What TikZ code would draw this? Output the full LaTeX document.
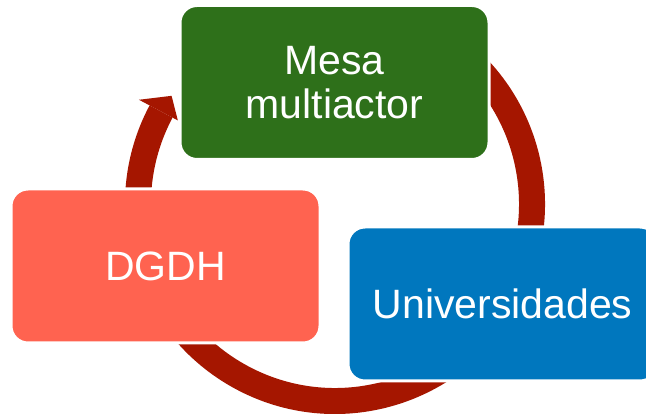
\documentclass[tikz,border=0pt]{standalone}
\usepackage{fontspec}
\setmainfont{Liberation Sans}
\definecolor{ringred}{HTML}{A51600}
\definecolor{mesagreen}{HTML}{2E701A}
\definecolor{dgdhred}{HTML}{FF6350}
\definecolor{univblue}{HTML}{0077BE}
\tikzset{
  cyclebox/.style={draw=white, line width=3pt, rounded corners=17pt,
    minimum width=309pt, minimum height=154pt, inner sep=0pt,
    text=white, align=center, font=\fontsize{41}{44}\selectfont},
  ringfill/.style={fill=ringred}
}
\begin{document}
\begin{tikzpicture}[x=1pt,y=1pt]
\useasboundingbox (0,0) rectangle (646,414);
\clip (0,0) rectangle (646,414);
\fill[white] (0,0) rectangle (646,414);
% circular arrow
\begin{scope}[shift={(335,210)}]
  \fill[ringfill] (60:210) arc[start angle=60, end angle=-208, radius=210]
     -- (-208:184) arc[start angle=-208, end angle=60, radius=184] -- cycle;
  \fill[ringfill] (152:222) -- (146.5:196) -- (152:178) -- cycle;
\end{scope}
% boxes
\node[cyclebox, fill=mesagreen] (mesa) at (334.5,331.5) {Mesa\\multiactor};
\node[cyclebox, fill=dgdhred] (dgdh) at (165.5,148) {DGDH};
\node[cyclebox, fill=univblue] (univ) at (502.5,110) {Universidades};
\end{tikzpicture}
\end{document}
